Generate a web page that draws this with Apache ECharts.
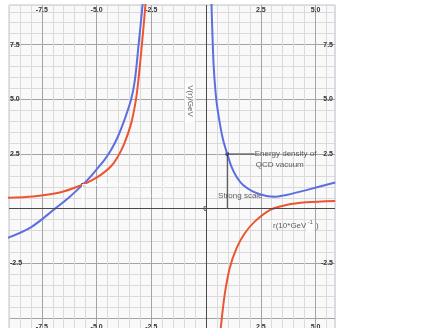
<!DOCTYPE html>
<html>
<head>
<meta charset="utf-8">
<script src="https://cdn.jsdelivr.net/npm/echarts@6/dist/echarts.min.js"></script>
<style>
html, body { margin: 0; padding: 0; background: #fff; }
#chart { width: 447px; height: 328px; }
</style>
</head>
<body>
<div id="chart"></div>
<script>
// r (10*GeV^-1) and V(r) (GeV)
var blueLeftR  = [-9.1, -8.0, -6.9, -6.22, -5.63, -5.4, -5.02, -4.64, -4.34, -4.03, -3.73, -3.42, -3.25, -3.08, -2.9, -2.75];
var blueLeftV  = [-1.35, -0.85, 0.0, 0.55, 1.1, 1.33, 1.77, 2.23, 2.68, 3.29, 4.05, 5.0, 5.88, 7.5, 9.31, 11.0];
var blueRightR = [0.2, 0.25, 0.29, 0.35, 0.47, 0.63, 0.78, 0.97, 1.16, 1.39, 1.69, 2.15, 2.76, 3.2, 3.67, 4.58, 5.9];
var blueRightV = [11.6, 9.31, 8.02, 6.49, 4.97, 3.9, 3.14, 2.5, 1.92, 1.46, 1.08, 0.78, 0.58, 0.55, 0.63, 0.85, 1.2];
var redLeftR   = [-9.1, -7.9, -6.68, -5.63, -5.25, -4.79, -4.34, -4.03, -3.73, -3.42, -3.2, -3.09, -2.93, -2.77, -2.66];
var redLeftV   = [0.5, 0.56, 0.74, 1.1, 1.28, 1.56, 1.94, 2.38, 2.99, 3.9, 5.0, 5.88, 7.5, 9.31, 11.0];
var redRightR  = [0.56, 0.67, 0.85, 1.08, 1.39, 1.77, 2.22, 2.91, 3.67, 4.58, 5.9];
var redRightV  = [-6.6, -5.47, -3.94, -2.72, -1.81, -1.12, -0.59, -0.06, 0.17, 0.29, 0.35];

// marked points: strong scale and the crossing on the left
var dotR = [0.97, -5.63];
var dotV = [2.5, 1.1];

var FONT = 'Liberation Sans';
var BLUE = '#5b6fe0';
var RED = '#eb5632';
var MINOR = '#dadada';
var MAJOR = '#a3a3a3';

function pairs(xs, ys) {
    return xs.map(function (x, i) { return [x, ys[i]]; });
}

function tickText(skipBelow) {
    return function (v) {
        var r = v / 2.5;
        if (Math.abs(r - Math.round(r)) > 1e-6 || Math.abs(v) < 1e-6) return '';
        if (skipBelow !== undefined && v < skipBelow) return '';
        return v.toFixed(1);
    };
}

var labelStyle = { color: '#333', fontSize: 7, fontWeight: 'bold', fontFamily: FONT };

function note(x, y, text, extra) {
    var lbl = Object.assign({
        show: true, position: 'right', distance: 0, formatter: text,
        color: '#333', fontSize: 8, fontFamily: FONT
    }, extra || {});
    return { value: [x, y], label: lbl };
}

function curve(name, color, xs, ys) {
    return {
        name: name, type: 'line', smooth: 0.3, showSymbol: false, clip: true,
        lineStyle: { color: color, width: 2 }, data: pairs(xs, ys)
    };
}

var chart = echarts.init(document.getElementById('chart'));

var blueLeft = curve('blue left', BLUE, blueLeftR, blueLeftV);
blueLeft.markLine = {
    silent: true, symbol: ['none', 'none'], label: { show: false },
    lineStyle: { color: '#4a4a4a', type: 'solid', width: 1 },
    data: [{ xAxis: 0 }, { yAxis: 0 }]
};

var option = {
    animation: false,
    backgroundColor: '#fff',
    grid: {
        show: true, left: 9, top: 5, width: 326, height: 335,
        outerBoundsMode: 'none', containLabel: false,
        backgroundColor: '#f9f9f9', borderColor: '#b2c6da', borderWidth: 1
    },
    xAxis: [
        {
            type: 'value', min: -9, max: 5.89, interval: 0.5, position: 'bottom',
            axisLine: { show: false }, axisTick: { show: false },
            splitLine: { show: true, lineStyle: { color: [MINOR, MINOR, MINOR, MAJOR, MINOR], width: 1 } },
            axisLabel: Object.assign({ inside: true, margin: 9, formatter: tickText() }, labelStyle)
        },
        {
            type: 'value', min: -9, max: 5.89, interval: 0.5, position: 'top',
            axisLine: { show: false }, axisTick: { show: false }, splitLine: { show: false },
            axisLabel: Object.assign({ inside: true, margin: 2, formatter: tickText() }, labelStyle)
        }
    ],
    yAxis: [
        {
            type: 'value', min: -6, max: 9.31, interval: 0.5, position: 'left',
            axisLine: { show: false }, axisTick: { show: false },
            splitLine: { show: true, lineStyle: { color: [MINOR, MINOR, MAJOR, MINOR, MINOR], width: 1 } },
            axisLabel: Object.assign({ inside: true, margin: 1, formatter: tickText(-4) }, labelStyle)
        },
        {
            type: 'value', min: -6, max: 9.31, interval: 0.5, position: 'right',
            axisLine: { show: false }, axisTick: { show: false }, splitLine: { show: false },
            axisLabel: Object.assign({ inside: true, margin: 2, formatter: tickText(-4) }, labelStyle)
        }
    ],
    series: [
        blueLeft,
        curve('red left', RED, redLeftR, redLeftV),
        curve('blue right', BLUE, blueRightR, blueRightV),
        curve('red right', RED, redRightR, redRightV),
        {
            // leader lines of the strong scale point
            name: 'leader', type: 'line', showSymbol: false, silent: true,
            lineStyle: { color: '#3a3a3a', width: 1 },
            data: [[0.97, 0], [0.97, 2.5], [2.22, 2.5]]
        },
        {
            // whited-out leader on the left crossing
            name: 'leader white', type: 'line', showSymbol: false, silent: true,
            lineStyle: { color: '#ffffff', width: 1.5 },
            data: [[-5.63, 0.26], [-5.63, 1.1], [-4.99, 1.1]]
        },
        {
            name: 'dots', type: 'scatter', symbol: 'circle', symbolSize: 4,
            itemStyle: { color: '#000' }, data: pairs(dotR, dotV)
        },
        {
            name: 'notes', type: 'scatter', symbolSize: 0, silent: true,
            data: [
                note(2.22, 2.5, 'Energy density of'),
                note(2.27, 2.01, 'QCD vacuum'),
                note(0.55, 0.57, 'Strong scale'),
                note(3.06, -0.8, '{a|r(10*GeV}{s|-1}{a| )}', {
                    rich: {
                        a: { color: '#333', fontSize: 8, fontFamily: FONT },
                        s: { color: '#333', fontSize: 6, fontFamily: FONT, padding: [0, 1, 7, 1], backgroundColor: '#fff' }
                    }
                }),
                note(-0.74, 4.83, 'V(r)/GeV', { position: 'inside', rotate: -90, backgroundColor: '#fff', padding: [1, 6, 1, 2] }),
                note(-0.04, -0.01, '0', { position: 'inside', fontWeight: 'bold', fontSize: 7 }),
                note(-4.99, 1.1, 'Energy density of QCD', { color: '#fff' }),
                note(-3.16, 0.69, 'vacuum', { color: '#fff' })
            ]
        }
    ]
};
chart.setOption(option);
</script>
</body>
</html>
